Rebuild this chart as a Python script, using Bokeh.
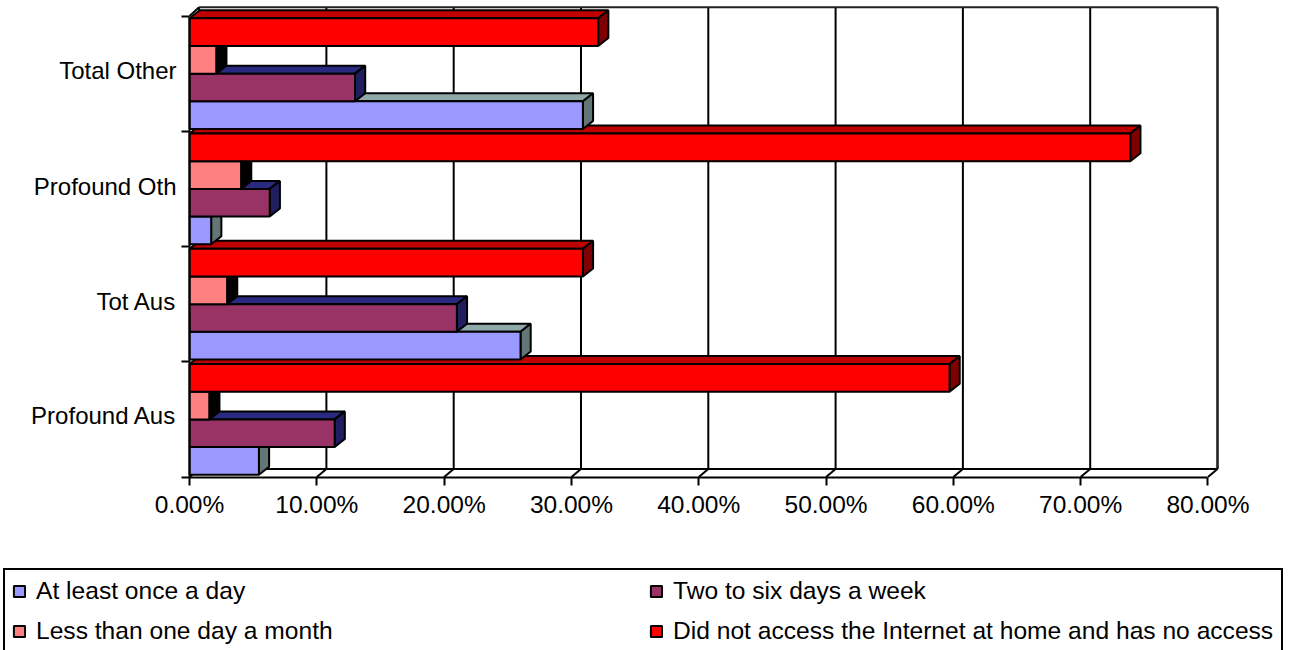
from bokeh.embed import file_html
from bokeh.models import ColumnDataSource, FixedTicker, Legend, LegendItem, Range1d
from bokeh.plotting import figure
from bokeh.resources import INLINE

# Survey shares (percent), listed from the lowest row to the highest
categories = ["Profound Aus", "Tot Aus", "Profound Oth", "Total Other"]
at_least_daily = [5.45, 26.0, 1.7, 30.9]
two_to_six_days = [11.4, 21.0, 6.3, 13.0]
less_than_monthly = [1.55, 2.95, 4.05, 2.1]
no_access = [59.7, 30.9, 73.9, 32.1]

series_names = [
    "At least once a day",
    "Two to six days a week",
    "Less than one day a month",
    "Did not access the Internet at home and has no access",
]
series_values = [at_least_daily, two_to_six_days, less_than_monthly, no_access]
front_colors = ["#9999FF", "#993366", "#FF8080", "#FF0000"]
top_colors = ["#8FA8A8", "#29297F", "#000000", "#BF0000"]
side_colors = ["#627676", "#1F1F5F", "#000000", "#7F0000"]
x_tick_values = [0, 10, 20, 30, 40, 50, 60, 70, 80]

FONT = "Liberation Sans"
FONT_SIZE = "24px"
AXIS_FONT_SIZE = "24.5px"
LEGEND_FONT_SIZE = "24.6px"
DEPTH_X = 0.8     # oblique offset of the bar depth, in percent units
WALL_X = 0.75     # oblique offset of the back wall, in percent units
DEPTH_Y = 0.0694  # same offset, in category-band units
WALL_TOP = 4.075
BAR_H = 0.24
BAR_PAD = 0.02
LINE_W = 2

# The frame fills the page; both axes are pinned at zero inside it
p = figure(
    width=1293, height=650, output_backend="svg", toolbar_location=None,
    x_range=Range1d(-14.85, 86.72), y_range=Range1d(-1.5054, 4.1345),
    min_border=0,
    background_fill_color="white", border_fill_color="white",
    outline_line_color=None,
)
p.xgrid.visible = False
p.ygrid.visible = False

# Back wall and floor of the oblique box
grid_x = [v + WALL_X for v in x_tick_values]
p.segment(grid_x[:-1], [DEPTH_Y] * 8, grid_x[:-1], [WALL_TOP] * 8, line_color="black", line_width=LINE_W)
p.segment(grid_x[-1:], [DEPTH_Y], grid_x[-1:], [WALL_TOP], line_color="#222222", line_width=2.6)
p.segment([WALL_X], [WALL_TOP], [grid_x[-1]], [WALL_TOP], line_color="#222222", line_width=LINE_W)
p.segment([WALL_X], [DEPTH_Y], [grid_x[-1]], [DEPTH_Y], line_color="black", line_width=LINE_W)
p.segment(x_tick_values, [0] * 9, grid_x, [DEPTH_Y] * 9, line_color="black", line_width=LINE_W)
p.segment([0], [4], [WALL_X], [WALL_TOP], line_color="black", line_width=LINE_W)

# Rows are painted from the bottom up so that higher bars cover the depth faces below them
legend_items = []
for c in range(len(categories)):
    for s, values in enumerate(series_values):
        v = values[c]
        y0 = c + BAR_PAD + s * BAR_H
        y1 = y0 + BAR_H
        top_x = [0, DEPTH_X, v + DEPTH_X, v]
        top_y = [y1, y1 + DEPTH_Y, y1 + DEPTH_Y, y1]
        side_x = [v, v + DEPTH_X, v + DEPTH_X, v]
        side_y = [y0, y0 + DEPTH_Y, y1 + DEPTH_Y, y1]
        p.patch(top_x, top_y, fill_color=top_colors[s], line_color="black", line_width=LINE_W)
        p.patch(side_x, side_y, fill_color=side_colors[s], line_color="black", line_width=LINE_W)
        src = ColumnDataSource(dict(left=[0], right=[v], bottom=[y0], top=[y1]))
        front = p.quad(left="left", right="right", bottom="bottom", top="top", source=src,
                       fill_color=front_colors[s], line_color="black", line_width=LINE_W)
        if c == 0:
            legend_items.append(LegendItem(label=series_names[s], renderers=[front]))

# Horizontal axis
xa = p.xaxis[0]
xa.fixed_location = 0
xa.ticker = FixedTicker(ticks=x_tick_values)
xa.major_label_overrides = {v: f"{v:.2f}%" for v in x_tick_values}
xa.bounds = (0, 80)
xa.axis_line_color = "black"
xa.axis_line_width = LINE_W
xa.major_tick_line_color = "black"
xa.major_tick_line_width = LINE_W
xa.major_tick_in = 0
xa.major_tick_out = 8
xa.minor_tick_line_color = None
xa.major_label_standoff = 6
xa.major_label_text_font = FONT
xa.major_label_text_font_size = AXIS_FONT_SIZE
xa.major_label_text_color = "black"

# Vertical axis: names sit mid-band, tick marks sit on band boundaries
ya = p.yaxis[0]
ya.fixed_location = 0
label_positions = [0.53, 1.52, 2.52, 3.53]
ya.ticker = FixedTicker(ticks=label_positions, minor_ticks=[0, 1, 2, 3, 4])
ya.major_label_overrides = dict(zip(label_positions, categories))
ya.bounds = (0, 4)
ya.axis_line_color = "black"
ya.axis_line_width = LINE_W
ya.major_tick_line_color = None
ya.major_tick_in = 0
ya.major_tick_out = 0
ya.minor_tick_line_color = "black"
ya.minor_tick_line_width = LINE_W
ya.minor_tick_in = 0
ya.minor_tick_out = 8
ya.major_label_standoff = 5
ya.major_label_text_font = FONT
ya.major_label_text_font_size = FONT_SIZE
ya.major_label_text_color = "black"

# Legend entries read across: the columns fill top to bottom, so each column takes two
legend = Legend(
    items=[legend_items[i] for i in (0, 2, 1, 3)], ncols=2, location=(3, -4),
    border_line_color="black", border_line_width=LINE_W, border_line_alpha=1.0,
    background_fill_color="white", background_fill_alpha=1.0,
    label_text_font=FONT, label_text_font_size=LEGEND_FONT_SIZE, label_text_color="black",
    label_text_baseline="middle",
    glyph_width=14, glyph_height=14, label_standoff=10,
    label_width=601, label_height=25,
    padding=7, margin=0, spacing=12,
)
p.add_layout(legend, "center")

open("out.html", "w").write(file_html(p, INLINE))
